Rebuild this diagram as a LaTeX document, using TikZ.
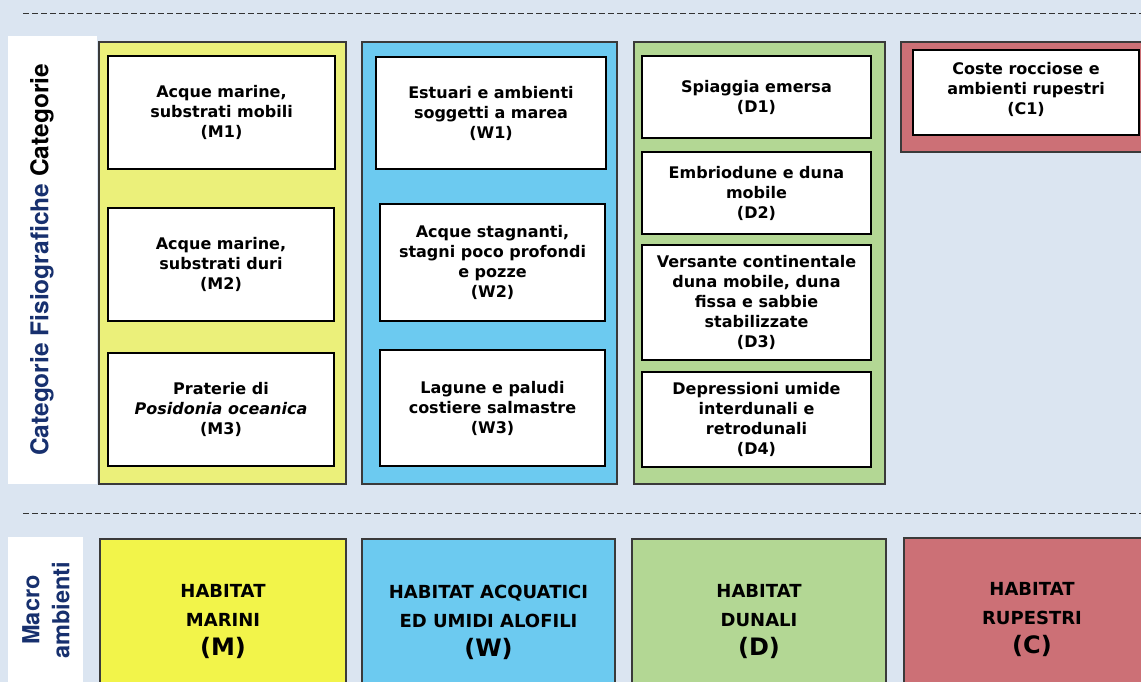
\documentclass[tikz,border=0pt]{standalone}
\usepackage{fontspec}
\setmainfont{DejaVu Sans}
\newfontfamily\heros{TeX Gyre Heros}
\definecolor{bgc}{HTML}{DBE5F1}
\definecolor{ypan}{HTML}{EBF07A}
\definecolor{ybox}{HTML}{F2F44A}
\definecolor{bpan}{HTML}{6CCAF0}
\definecolor{gpan}{HTML}{B3D794}
\definecolor{rpan}{HTML}{CC7076}
\definecolor{navy}{HTML}{17306E}
\definecolor{pborder}{HTML}{3A3A3A}
\tikzset{
  panel/.style={draw=pborder, line width=1.3pt, inner sep=0pt, outer sep=0pt, anchor=north west},
  ibox/.style={draw=black, fill=white, line width=1.2pt, inner sep=0pt, outer sep=0pt, anchor=north west,
    align=center, font=\bfseries\fontsize{16}{20}\selectfont},
  itext/.style={align=center, inner sep=0pt, font=\bfseries\fontsize{16}{20}\selectfont},
  mbox/.style={draw=pborder, line width=1.3pt, inner sep=0pt, outer sep=0pt, anchor=north west,
    minimum height=160pt},
  mtext/.style={align=center, inner sep=0pt, font=\bfseries\fontsize{18}{29}\selectfont},
  labelbox/.style={fill=white, inner sep=0pt, outer sep=0pt, anchor=north west},
  sidetext/.style={rotate=90, align=center, text=navy, font=\heros\bfseries\fontsize{24.5}{30}\selectfont},
  sepline/.style={draw=black!80, line width=0.9pt, dash pattern=on 6pt off 3pt}
}
\begin{document}
\begin{tikzpicture}[x=1pt,y=-1pt]
\useasboundingbox (0,0) rectangle (1141,682);
\fill[bgc] (0,0) rectangle (1141,682);
\clip (0,0) rectangle (1141,682);

% dashed separators
\coordinate (s1a) at (23,13);
\coordinate (s1b) at (1145,13);
\coordinate (s2a) at (23,513);
\coordinate (s2b) at (1145,513);
\draw[sepline] (s1a) -- (s1b);
\draw[sepline] (s2a) -- (s2b);

% side labels
\node[labelbox, minimum width=89pt, minimum height=448pt] (Ltop) at (8,36) {};
\node[sidetext] (LtopT) at (42,260) {Categorie Fisiografiche \textcolor{black}{Categorie}};
\node[labelbox, minimum width=75pt, minimum height=150pt] (Lbot) at (8,537) {};
\node[sidetext, font=\heros\bfseries\fontsize{23.5}{30}\selectfont] (LbotT) at (46,610) {Macro\\ambienti};

% panels
\node[panel, fill=ypan, minimum width=247pt, minimum height=442pt] (PM) at (99,42) {};
\node[panel, fill=bpan, minimum width=255pt, minimum height=442pt] (PW) at (362,42) {};
\node[panel, fill=gpan, minimum width=251pt, minimum height=442pt] (PD) at (634,42) {};
\node[panel, fill=rpan, minimum width=260pt, minimum height=110pt] (PC) at (901,42) {};

% inner boxes
\node[ibox, minimum width=227pt, minimum height=113pt] (M1) at (108,56) {Acque marine,\\substrati mobili\\(M1)};
\node[ibox, minimum width=226pt, minimum height=113pt] (M2) at (108,208) {Acque marine,\\substrati duri\\(M2)};
\node[ibox, minimum width=226pt, minimum height=113pt] (M3) at (108,353) {Praterie di\\\textit{Posidonia oceanica}\\(M3)};

\node[ibox, minimum width=230pt, minimum height=112pt] (W1) at (376,57) {Estuari e ambienti\\soggetti a marea\\(W1)};
\node[ibox, minimum width=225pt, minimum height=117pt] (W2) at (380,204) {Acque stagnanti,\\stagni poco profondi\\e pozze\\(W2)};
\node[ibox, minimum width=225pt, minimum height=116pt] (W3) at (380,350) {Lagune e paludi\\costiere salmastre\\(W3)};

\node[ibox, minimum width=229pt, minimum height=82pt] (D1) at (642,56) {Spiaggia emersa\\(D1)};
\node[ibox, minimum width=229pt, minimum height=82pt] (D2) at (642,152) {Embriodune e duna\\mobile\\(D2)};
\node[ibox, minimum width=229pt, minimum height=115pt] (D3) at (642,245) {Versante continentale\\duna mobile, duna\\fissa e sabbie\\stabilizzate\\(D3)};
\node[ibox, minimum width=229pt, minimum height=95pt] (D4) at (642,372) {Depressioni umide\\interdunali e\\retrodunali\\(D4)};

\node[ibox, minimum width=226pt, minimum height=85pt] (C1) at (913,50) {};
\node[itext, yshift=3pt] (C1T) at (C1.center) {Coste rocciose e\\ambienti rupestri\\(C1)};

% macro boxes
\node[mbox, fill=ybox, minimum width=246pt] (HM) at (100,539) {};
\node[mbox, fill=bpan, minimum width=253pt] (HW) at (362,539) {};
\node[mbox, fill=gpan, minimum width=254pt] (HD) at (632,539) {};
\node[mbox, fill=rpan, minimum width=256pt] (HC) at (904,538) {};
\node[mtext, yshift=-3pt] (HMT) at (HM.center) {HABITAT\\MARINI\\{\fontsize{24}{29}\selectfont (M)}};
\node[mtext, yshift=-3pt] (HWT) at (HW.center) {HABITAT ACQUATICI\\ED UMIDI ALOFILI\\{\fontsize{24}{29}\selectfont (W)}};
\node[mtext, yshift=-3pt] (HDT) at (HD.center) {HABITAT\\DUNALI\\{\fontsize{24}{29}\selectfont (D)}};
\node[mtext, yshift=-2pt] (HCT) at (HC.center) {HABITAT\\RUPESTRI\\{\fontsize{24}{29}\selectfont (C)}};
\end{tikzpicture}
\end{document}
